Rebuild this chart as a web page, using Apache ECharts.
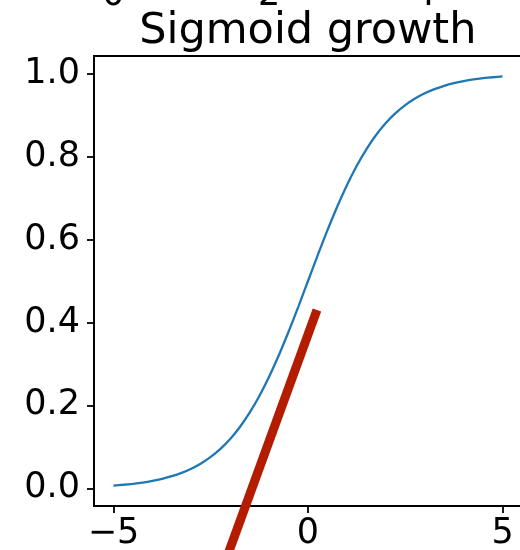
<!DOCTYPE html>
<html>
<head>
<meta charset="utf-8">
<script src="https://cdn.jsdelivr.net/npm/echarts@6/dist/echarts.min.js"></script>
<style>html,body{margin:0;padding:0;background:#fff;}#c{width:520px;height:550px;}</style>
</head>
<body>
<div id="c"></div>
<script>
// Sigmoid curve
const sigX = [-5, -4.75, -4.5, -4.25, -4, -3.75, -3.5, -3.25, -3, -2.75, -2.5, -2.25, -2, -1.75, -1.5, -1.25, -1, -0.75, -0.5, -0.25, 0,
              0.25, 0.5, 0.75, 1, 1.25, 1.5, 1.75, 2, 2.25, 2.5, 2.75, 3, 3.25, 3.5, 3.75, 4, 4.25, 4.5, 4.75, 5];
const sigY = [0.0067, 0.0086, 0.011, 0.014, 0.018, 0.023, 0.0293, 0.0373, 0.0474, 0.0601, 0.0759, 0.0953, 0.1192, 0.148, 0.1824, 0.2227, 0.2689, 0.3208, 0.3775, 0.4378, 0.5,
              0.5622, 0.6225, 0.6792, 0.7311, 0.7773, 0.8176, 0.852, 0.8808, 0.9047, 0.9241, 0.9399, 0.9526, 0.9627, 0.9707, 0.977, 0.982, 0.986, 0.989, 0.9914, 0.9933];
// Red straight segment (extends below the plot)
const redX = [0.23, -2.5];
const redY = [0.43, -0.273];
// Tick labels
const yTicks = [0.0, 0.2, 0.4, 0.6, 0.8, 1.0];
const xTicks = [-5, 0, 5];
const topTicks = [0, 2, 4];
const titleText = 'Sigmoid growth';

const FONT = 'DejaVu Sans';
const fmtX = v => (v < 0 ? '\u2212' + Math.abs(v) : String(v));
const spine = {color: '#000', width: 1.8};

const chart = echarts.init(document.getElementById('c'), null, {renderer: 'canvas'});
chart.setOption({
  animation: false,
  backgroundColor: '#ffffff',
  title: {
    text: titleText,
    left: 307.8,
    top: 10,
    padding: 0,
    textAlign: 'center',
    textStyle: {fontFamily: FONT, fontSize: 43, fontWeight: 'normal', color: '#000'}
  },
  grid: [
    {left: 94, top: 56, right: -2, bottom: 44, containLabel: false, outerBoundsMode: 'none',
     show: true, backgroundColor: 'transparent', borderColor: '#000', borderWidth: 1.8},
    {left: 94, top: -40, right: -2, height: 10, containLabel: false, outerBoundsMode: 'none'}
  ],
  xAxis: [
    {
      type: 'value', gridIndex: 0, min: -5.5, max: 5.5, position: 'bottom',
      splitLine: {show: false},
      axisLine: {show: true, onZero: false, lineStyle: spine},
      axisTick: {show: true, length: 7, lineStyle: spine, customValues: xTicks},
      axisLabel: {show: true, margin: 10, customValues: xTicks, formatter: fmtX,
        fontFamily: FONT, fontSize: 35, color: '#000'}
    },
    {
      type: 'value', gridIndex: 1, min: -0.25, max: 5.25,
      splitLine: {show: false},
      axisLine: {show: false},
      axisTick: {show: false, customValues: topTicks},
      axisLabel: {show: true, margin: 8, customValues: topTicks, formatter: v => String(v),
        fontFamily: FONT, fontSize: 35, color: '#000'}
    }
  ],
  yAxis: [
    {
      type: 'value', gridIndex: 0, min: -0.0426, max: 1.0426, position: 'left',
      splitLine: {show: false},
      axisLine: {show: true, onZero: false, lineStyle: spine},
      axisTick: {show: true, length: 7, lineStyle: spine, customValues: yTicks},
      axisLabel: {show: true, margin: 14, customValues: yTicks, formatter: v => v.toFixed(1),
        fontFamily: FONT, fontSize: 35, color: '#000'}
    },
    {
      type: 'value', gridIndex: 1, min: 0, max: 1, show: false
    }
  ],
  series: [
    {
      type: 'line', xAxisIndex: 0, yAxisIndex: 0,
      data: sigX.map((x, i) => [x, sigY[i]]),
      showSymbol: false, smooth: 0.2,
      lineStyle: {color: '#1f77b4', width: 2.3},
      silent: true
    },
    {
      type: 'line', xAxisIndex: 0, yAxisIndex: 0,
      data: redX.map((x, i) => [x, redY[i]]),
      showSymbol: false, clip: false,
      lineStyle: {color: '#b41c00', width: 9, cap: 'butt'},
      silent: true, z: 3
    }
  ]
});
</script>
</body>
</html>
